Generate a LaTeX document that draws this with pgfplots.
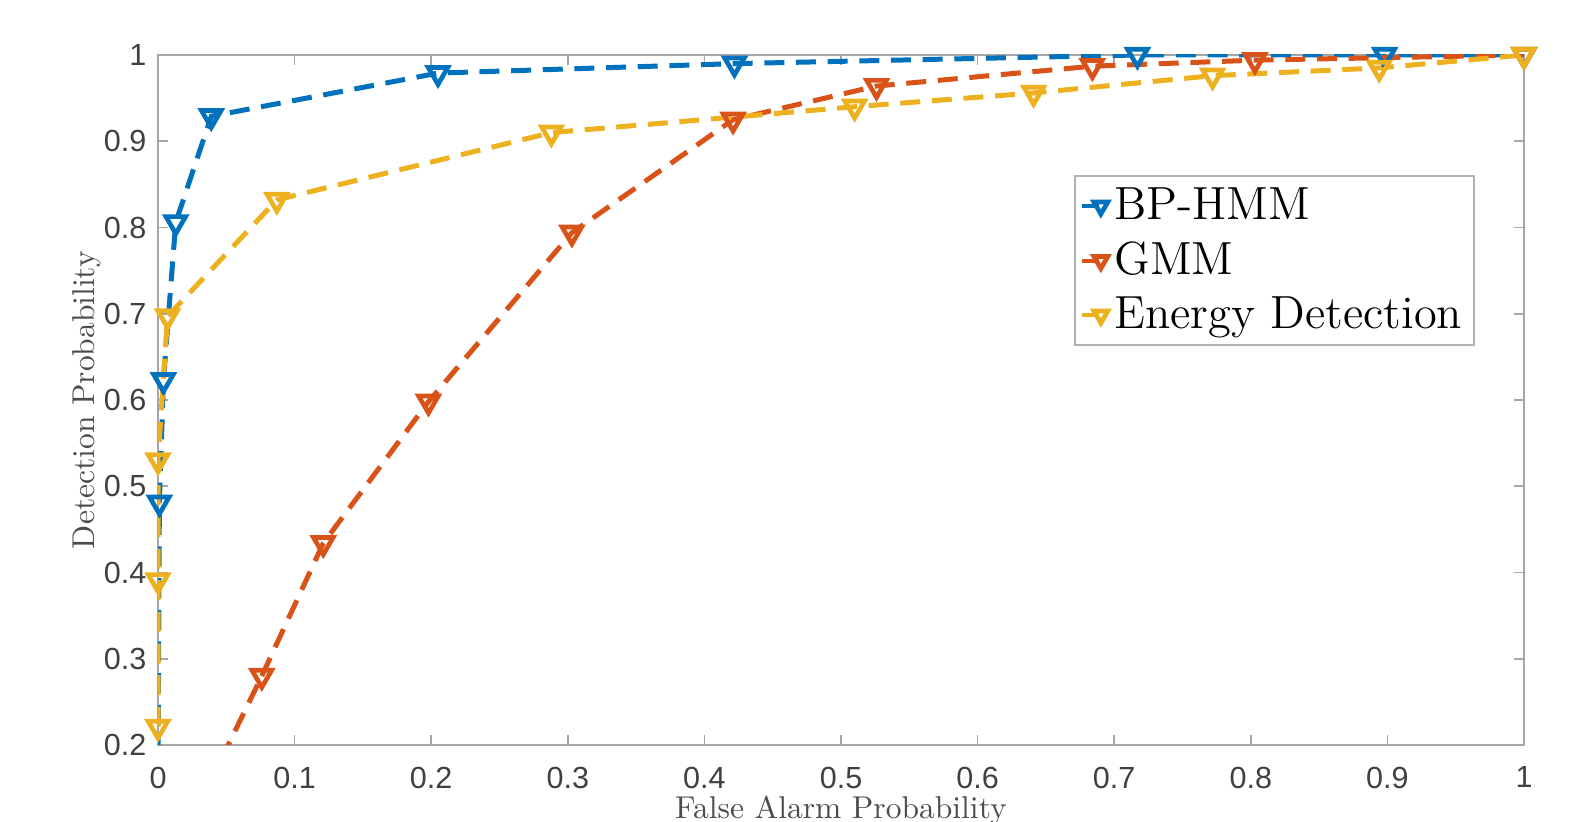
\documentclass[border=0pt]{standalone}
\usepackage{fontspec}
\usepackage{pgfplots}
\pgfplotsset{compat=1.18}
\newfontfamily\ticksans{Liberation Sans}
\definecolor{mblue}{rgb}{0,0.447,0.741}
\definecolor{mred}{rgb}{0.85,0.325,0.098}
\definecolor{myellow}{rgb}{0.929,0.694,0.125}
\begin{document}
\begin{tikzpicture}
\begin{axis}[
    scale only axis,
    width=409.8bp,
    height=207bp,
    xmin=0, xmax=1,
    ymin=0.2, ymax=1,
    xtick={0,0.1,...,1},
    ytick={0.2,0.3,...,1},
    xticklabels={0,0.1,0.2,0.3,0.4,0.5,0.6,0.7,0.8,0.9,1},
    yticklabels={0.2,0.3,0.4,0.5,0.6,0.7,0.8,0.9,1},
    tick align=inside,
    major tick length=3bp,
    axis line style={black!35, line width=0.6bp},
    tick style={black!35, line width=0.5bp},
    ticklabel style={font=\ticksans\fontsize{9.2}{11}\selectfont, text=black!75},
    xticklabel style={yshift=-3bp},
    xlabel={False Alarm Probability},
    ylabel={Detection Probability},
    label style={font=\fontsize{9.5}{11}\selectfont, text=black!70},
    xlabel style={yshift=4.5bp},
    ylabel style={yshift=-6bp},
    legend style={at={(0.964,0.826)}, anchor=north east,
        font=\fontsize{14}{16}\selectfont, draw=black!30, line width=0.6bp,
        inner sep=1.5bp, row sep=1.2bp, legend cell align=left,
        /tikz/every odd column/.style={xshift=0bp},
        /tikz/every even column/.style={xshift=-3bp}},
    legend image code/.code={
        \draw[#1, mark=none, solid, line width=1.2bp] (0cm,0cm) -- (0.18cm,0cm);
        \draw[#1, mark size=2.4bp] plot coordinates {(0.2cm,0cm)};
    },
    every axis plot/.append style={line width=1.5bp, dash pattern=on 6bp off 3.5bp,
        mark=triangle, mark size=3.4bp,
        mark options={solid, rotate=180, line width=1.4bp}},
]
% lead-in segments running in from below the axis
\addplot[mblue, mark=none, forget plot] coordinates {(0,0.15) (0.001,0.481)};
\addplot[mred, mark=none, forget plot] coordinates {(0.036,0.15) (0.076,0.28)};
\addplot[mblue] coordinates {
    (0.001,0.481) (0.004,0.623) (0.013,0.806) (0.039,0.929)
    (0.205,0.979) (0.422,0.990) (0.717,1.0) (0.898,1.0) (1,1)
};
\addplot[mred] coordinates {
    (0.076,0.28) (0.121,0.434) (0.198,0.598) (0.303,0.794)
    (0.421,0.925) (0.526,0.964) (0.684,0.987) (0.803,0.994) (1,1)
};
\addplot[myellow] coordinates {
    (0,0.221) (0,0.391) (0,0.530) (0.007,0.697) (0.087,0.832)
    (0.288,0.910) (0.51,0.940) (0.641,0.956) (0.772,0.976) (0.894,0.985) (1,1)
};
\legend{BP-HMM, GMM, Energy Detection}
\end{axis}
\pgfresetboundingbox
\path ([shift={(-47.4bp,-23.1bp)}]current axis.south west) rectangle ([shift={(14.7bp,16.5bp)}]current axis.north east);
\end{tikzpicture}
\end{document}
